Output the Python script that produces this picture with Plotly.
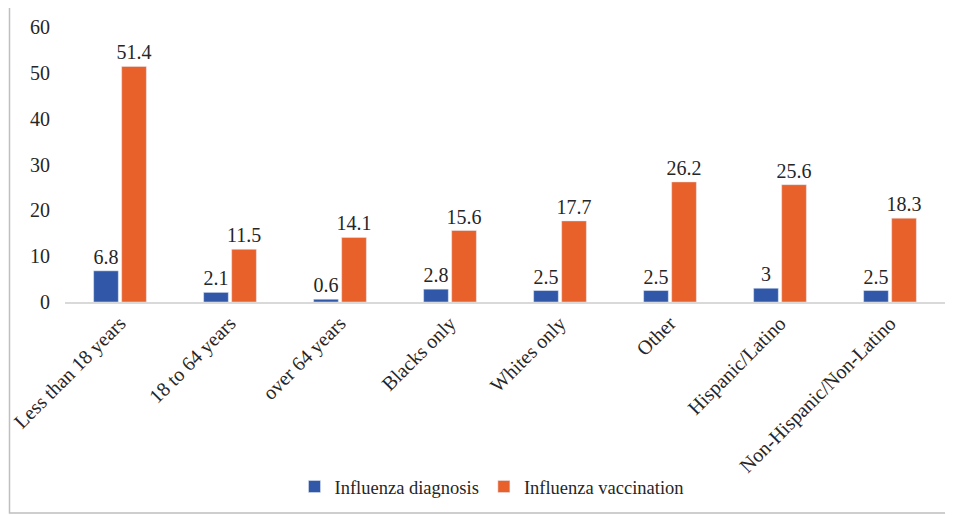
import plotly.graph_objects as go

categories = ["Less than 18 years", "18 to 64 years", "over 64 years", "Blacks only",
              "Whites only", "Other", "Hispanic/Latino", "Non-Hispanic/Non-Latino"]
diagnosis = [6.8, 2.1, 0.6, 2.8, 2.5, 2.5, 3, 2.5]
vaccination = [51.4, 11.5, 14.1, 15.6, 17.7, 26.2, 25.6, 18.3]
y_ticks = [0, 10, 20, 30, 40, 50, 60]

font_family = "'Liberation Serif', 'Times New Roman', Times, serif"
blue = "#3057A8"
orange = "#E8602A"
txt = "#262626"

fig = go.Figure()
fig.add_trace(go.Bar(x=categories, y=diagnosis, name="Influenza diagnosis",
                     marker=dict(color=blue), text=[str(v) for v in diagnosis],
                     textposition="outside", cliponaxis=False, constraintext="none",
                     textfont=dict(size=20, color=txt, family=font_family)))
fig.add_trace(go.Bar(x=categories, y=vaccination, name="Influenza vaccination",
                     marker=dict(color=orange), text=[str(v) for v in vaccination],
                     textposition="outside", cliponaxis=False, constraintext="none",
                     textfont=dict(size=20, color=txt, family=font_family)))

OFF = 8  # page body margin
W, H = 953 - OFF, 515 - OFF
ml, mt = 65 - OFF, 27 - OFF
plot_right, plot_bottom = 945 - OFF, 302 - OFF
mr, mb = W - plot_right, H - plot_bottom
pw = W - ml - mr
ph = H - mt - mb

def px_x(x):
    return (x - OFF - ml) / pw

def px_y(y):
    return (plot_bottom - (y - OFF)) / ph

fig.update_layout(
    width=W, height=H,
    margin=dict(l=ml, r=mr, t=mt, b=mb, autoexpand=False),
    paper_bgcolor="white", plot_bgcolor="white",
    barmode="group", bargap=0.49, bargroupgap=0.12,
    font=dict(family=font_family, size=20, color=txt),
    xaxis=dict(tickangle=-45, showline=True, linecolor="#D9D9D9", linewidth=1.5,
               ticks="", tickfont=dict(size=20, family=font_family, color=txt),
               automargin=False),
    yaxis=dict(range=[0, 60], tickvals=y_ticks, showgrid=False, zeroline=False,
               showline=False, ticks="", ticklen=0, ticklabelstandoff=14,
               tickfont=dict(size=20, family=font_family, color=txt),
               automargin=False),
    legend=dict(orientation="h", x=px_x(492), xanchor="center", y=px_y(487), yanchor="middle",
                font=dict(size=18.5, family=font_family, color=txt),
                itemwidth=30, traceorder="normal", bgcolor="rgba(0,0,0,0)"),
    showlegend=True,
    shapes=[dict(type="rect", xref="paper", yref="paper",
                 x0=px_x(9.5), x1=px_x(960), y0=px_y(513), y1=px_y(6.5),
                 line=dict(color="#BFBFBF", width=1.5), fillcolor="rgba(0,0,0,0)",
                 layer="below")],
)

fig.write_html("out.html")
